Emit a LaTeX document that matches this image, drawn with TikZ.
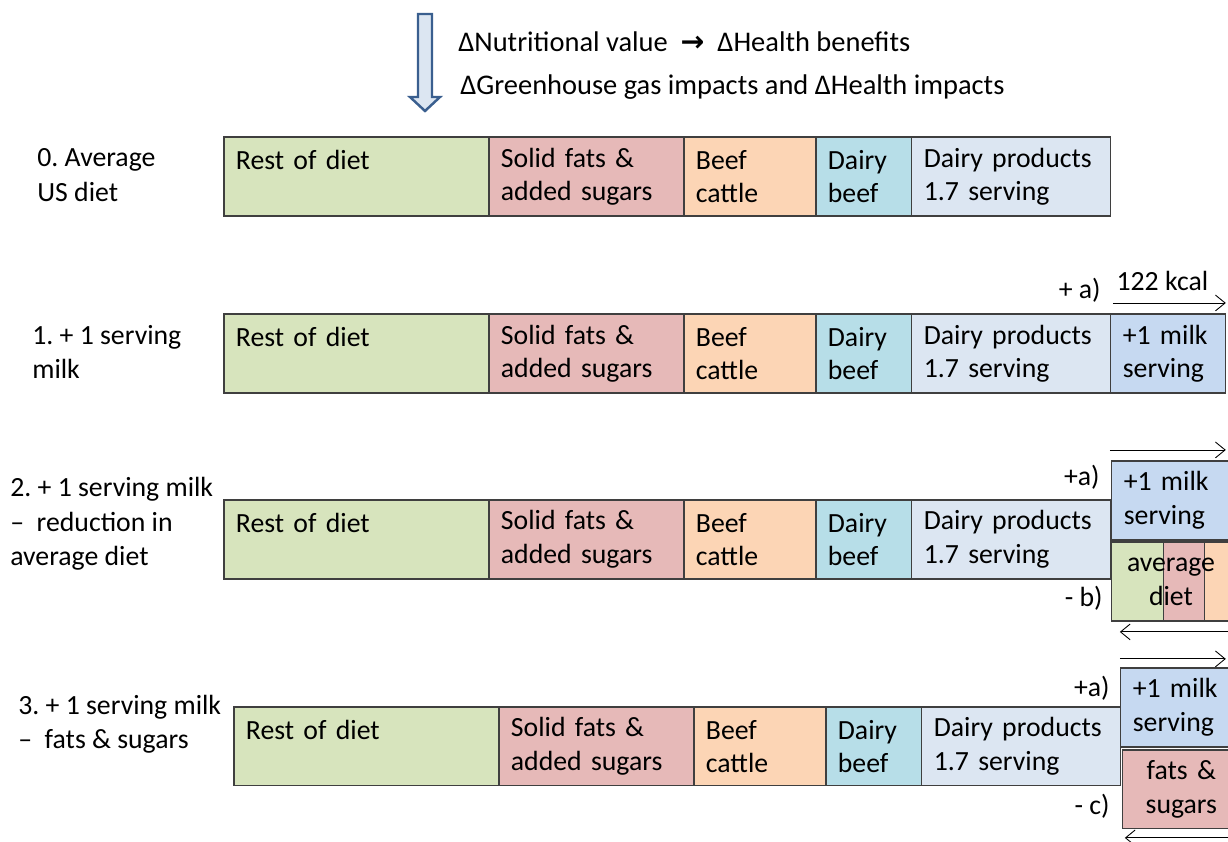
\documentclass[tikz,border=0pt]{standalone}
\usepackage{fontspec}
\setmainfont{Carlito}
\newfontfamily\arrowfont{DejaVu Sans}
\usepackage{xcolor}
\usetikzlibrary{arrows.meta,positioning}
\frenchspacing

\definecolor{restcol}{HTML}{D7E4BD}
\definecolor{fatcol}{HTML}{E6B9B8}
\definecolor{beefcol}{HTML}{FCD5B5}
\definecolor{dbeefcol}{HTML}{B7DEE8}
\definecolor{dprodcol}{HTML}{DCE6F2}
\definecolor{milkcol}{HTML}{C6D9F1}
\definecolor{edgecol}{HTML}{3F3F3F}
\definecolor{arrowedge}{HTML}{3A5F8F}

\begin{document}
\begin{tikzpicture}[x=0.02cm, y=-0.02cm, font=\fontsize{15.8}{19}\selectfont]
    % Styles
    \tikzstyle{block} = [rectangle, draw=edgecol, line width=0.7pt, outer sep=0pt, inner xsep=0.24cm, inner ysep=0pt, minimum height=1.58cm, align=left, anchor=north west]
    \tikzstyle{rowlabel} = [inner sep=0pt, anchor=west, align=left, font=\fontsize{15.8}{19.5}\selectfont]
    \tikzstyle{tag} = [inner sep=0pt, anchor=east]
    \tikzstyle{arrow} = [line width=0.5pt, -{Straight Barb[length=5.5pt, width=9pt]}]

    \useasboundingbox (0,0) rectangle (1228,842);
    \clip (0,0) rectangle (1228,842);

    % Header
    \draw[line width=1.4pt, draw=arrowedge, fill=dprodcol] (418,14) -- (432,14) -- (432,97) -- (440,97) -- (425,111) -- (410,97) -- (418,97) -- cycle;
    \node [anchor=west, inner sep=0pt, font=\fontsize{16.2}{19}\selectfont] (gain) at (458,42) {ΔNutritional value\ \ {\arrowfont\bfseries →}\ \ ΔHealth benefits};
    \node [anchor=west, inner sep=0pt, font=\fontsize{16.2}{19}\selectfont] (impact) at (460,87) {ΔGreenhouse gas impacts and ΔHealth impacts};

    % Row 0: average US diet
    \node [rowlabel] (lab0) at (37,175) {0. Average\\US diet};
    \node [block, fill=restcol, text width=4.82cm] (rest0) at (224,137) {Rest of diet\\\mbox{}};
    \node [block, fill=fatcol, text width=3.42cm, right=0pt of rest0] (fat0) {Solid fats \&\\added sugars};
    \node [block, fill=beefcol, text width=2.16cm, right=0pt of fat0] (beef0) {Beef\\cattle};
    \node [block, fill=dbeefcol, text width=1.44cm, right=0pt of beef0] (dbeef0) {Dairy\\beef};
    \node [block, fill=dprodcol, text width=3.5cm, right=0pt of dbeef0] (dprod0) {Dairy products\\1.7 serving};

    % Row 1: + 1 serving milk
    \node [rowlabel] (lab1) at (32,352) {1. + 1 serving\\milk};
    \node [block, fill=restcol, text width=4.82cm, below=1.96cm of rest0] (rest1) {Rest of diet\\\mbox{}};
    \node [block, fill=fatcol, text width=3.42cm, right=0pt of rest1] (fat1) {Solid fats \&\\added sugars};
    \node [block, fill=beefcol, text width=2.16cm, right=0pt of fat1] (beef1) {Beef\\cattle};
    \node [block, fill=dbeefcol, text width=1.44cm, right=0pt of beef1] (dbeef1) {Dairy\\beef};
    \node [block, fill=dprodcol, text width=3.5cm, right=0pt of dbeef1] (dprod1) {Dairy products\\1.7 serving};
    \node [block, fill=milkcol, text width=1.82cm, right=0pt of dprod1] (milk1) {+1 milk\\serving};
    \node [tag] (tag1a) at (1101,290) {+ a)};
    \draw[arrow] ([xshift=0.04cm, yshift=0.22cm]milk1.north west) -- node[above, inner sep=0.24cm, xshift=-0.14cm] (kcal) {122 kcal} ([yshift=0.22cm]milk1.north east);

    % Row 2: + 1 serving milk - reduction in average diet
    \node [rowlabel] (lab2) at (10,524) {2. + 1 serving milk\\–\ \ reduction in\\average diet};
    \node [block, fill=restcol, text width=4.82cm, below=2.14cm of rest1] (rest2) {Rest of diet\\\mbox{}};
    \node [block, fill=fatcol, text width=3.42cm, right=0pt of rest2] (fat2) {Solid fats \&\\added sugars};
    \node [block, fill=beefcol, text width=2.16cm, right=0pt of fat2] (beef2) {Beef\\cattle};
    \node [block, fill=dbeefcol, text width=1.44cm, right=0pt of beef2] (dbeef2) {Dairy\\beef};
    \node [block, fill=dprodcol, text width=3.5cm, right=0pt of dbeef2] (dprod2) {Dairy products\\1.7 serving};
    \node [block, fill=milkcol, text width=1.9cm] (milk2) at ([xshift=0.02cm, yshift=0.78cm]dprod2.north east) {+1 milk\\serving};
    \node [block, fill=restcol, minimum width=1.04cm] (avg2a) at ([yshift=-0.04cm]milk2.south west) {};
    \node [block, fill=fatcol, minimum width=0.82cm, right=0pt of avg2a] (avg2b) {};
    \node [block, fill=beefcol, minimum width=1.2cm, right=0pt of avg2b] (avg2c) {};
    \node [align=center, inner sep=0pt] (avgtext) at (1171,582) {average\\diet};
    \node [tag] (tag2a) at (1100,477) {+a)};
    \node [tag] (tag2b) at (1103,598) {- b)};
    \draw[arrow] ([xshift=-0.04cm, yshift=0.22cm]milk2.north west) -- ([xshift=-0.1cm, yshift=0.22cm]milk2.north east);
    \draw[arrow] ([yshift=-0.22cm]avg2c.south east) -- ([xshift=0.16cm, yshift=-0.22cm]avg2a.south west);

    % Row 3: + 1 serving milk - fats & sugars
    \node [rowlabel] (lab3) at (18,724) {3. + 1 serving milk\\–\ \ fats \& sugars};
    \node [block, fill=restcol, text width=4.82cm, below=2.56cm of rest2, xshift=0.2cm] (rest3) {Rest of diet\\\mbox{}};
    \node [block, fill=fatcol, text width=3.42cm, right=0pt of rest3] (fat3) {Solid fats \&\\added sugars};
    \node [block, fill=beefcol, text width=2.16cm, right=0pt of fat3] (beef3) {Beef\\cattle};
    \node [block, fill=dbeefcol, text width=1.44cm, right=0pt of beef3] (dbeef3) {Dairy\\beef};
    \node [block, fill=dprodcol, text width=3.5cm, right=0pt of dbeef3] (dprod3) {Dairy products\\1.7 serving};
    \node [block, fill=milkcol, text width=1.9cm] (milk3) at ([yshift=0.78cm]dprod3.north east) {+1 milk\\serving};
    \node [block, fill=fatcol, text width=1.86cm, align=center] (fats3) at ([xshift=0.04cm, yshift=-0.06cm]milk3.south west) {fats \&\\sugars};
    \node [tag] (tag3a) at (1110,688) {+a)};
    \node [tag] (tag3c) at (1110,806) {- c)};
    \draw[arrow] ([xshift=-0.02cm, yshift=0.18cm]milk3.north west) -- ([xshift=-0.28cm, yshift=0.18cm]milk3.north east);
    \draw[arrow] ([yshift=-0.18cm]fats3.south east) -- ([xshift=0.04cm, yshift=-0.18cm]fats3.south west);
\end{tikzpicture}
\end{document}
